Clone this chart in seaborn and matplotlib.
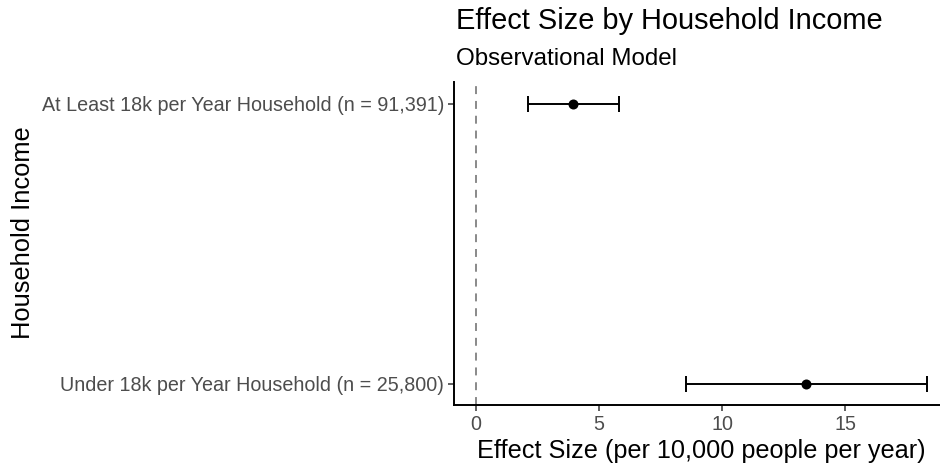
import matplotlib
matplotlib.use("Agg")
import matplotlib.pyplot as plt
import seaborn as sns
import pandas as pd
import numpy as np

groups = [
    "At Least 18k per Year Household (n = 91,391)",
    "Under 18k per Year Household (n = 25,800)",
]
estimate = [3.95, 13.4]
ci_low = [2.1, 8.55]
ci_high = [5.82, 18.32]
x_ticks = [0, 5, 10, 15]

sns.set_theme(style="ticks")
plt.rcParams["font.family"] = ["Liberation Sans", "DejaVu Sans"]

df = pd.DataFrame({"group": groups, "estimate": estimate,
                   "low": ci_low, "high": ci_high})
df["pos"] = np.arange(len(df))

# Panel runs slightly past the right edge of the canvas
fig = plt.figure(figsize=(9.4, 4.69), dpi=100)
ax = fig.add_axes([0.483, 0.1365, 0.527, 0.6887])

ax.axvline(0, color="#808080", linestyle=(0, (4.4, 3.8)), linewidth=1.3,
           zorder=1)
ax.errorbar(df["estimate"], df["pos"],
            xerr=[df["estimate"] - df["low"], df["high"] - df["estimate"]],
            fmt="none", ecolor="black", elinewidth=1.4, capsize=5.5,
            capthick=1.4, zorder=2)
sns.scatterplot(data=df, x="estimate", y="pos", color="black", s=52,
                edgecolor="black", linewidth=0, ax=ax, zorder=3, legend=False)

ax.set_xlim(-0.894, 19.24)
ax.set_ylim(1.076, -0.078)
ax.set_yticks(df["pos"])
ax.set_yticklabels(groups)
ax.set_xticks(x_ticks)
ax.tick_params(axis="both", labelcolor="#4d4d4d", labelsize=14.2, length=4,
               width=1.1, color="#333333", pad=3)
for side in ["left", "bottom"]:
    ax.spines[side].set_linewidth(1.4)
    ax.spines[side].set_color("black")
sns.despine(ax=ax)

ax.set_xlabel("Effect Size (per 10,000 people per year)", fontsize=18.2,
              color="black", labelpad=3.5)
ax.set_ylabel("")
fig.text(0.0245, 0.503, "Household Income", rotation=90, fontsize=18.4,
         ha="center", va="center", color="black")

fig.text(0.485, 0.938, "Effect Size by Household Income", fontsize=20.9,
         ha="left", va="baseline", color="black")
fig.text(0.485, 0.861, "Observational Model", fontsize=17.4,
         ha="left", va="baseline", color="black")

fig.savefig("out.png", dpi=100)
